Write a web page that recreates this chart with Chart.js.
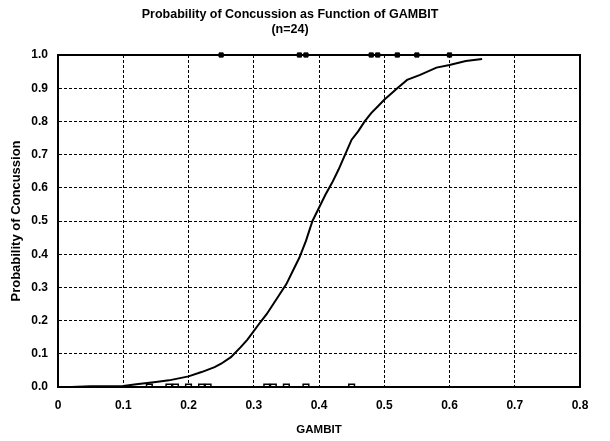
<!DOCTYPE html>
<html>
<head>
<meta charset="utf-8">
<script src="https://cdn.jsdelivr.net/npm/chart.js@4/dist/chart.umd.min.js"></script>
<style>
    html, body { margin: 0; padding: 0; background: #fff; }
    #wrap { width: 610px; height: 441px; position: relative; }
</style>
</head>
<body>
<div id="wrap"><canvas id="chart"></canvas></div>
<script>
// fitted probability curve
const curveX = [0.02, 0.05, 0.10, 0.12, 0.15, 0.17, 0.20, 0.22, 0.24, 0.25, 0.265, 0.28, 0.29, 0.30,
    0.31, 0.32, 0.33, 0.34, 0.35, 0.36, 0.37, 0.38, 0.39, 0.40, 0.41, 0.42, 0.43, 0.44, 0.45,
    0.46, 0.47, 0.48, 0.49, 0.50, 0.52, 0.535, 0.555, 0.58, 0.60, 0.625, 0.65];
const curveP = [0.0, 0.002, 0.003, 0.008, 0.015, 0.02, 0.032, 0.045, 0.06, 0.07, 0.09, 0.12, 0.142, 0.168,
    0.195, 0.22, 0.25, 0.28, 0.31, 0.35, 0.39, 0.44, 0.50, 0.54, 0.58, 0.615, 0.655, 0.70, 0.745,
    0.77, 0.80, 0.825, 0.845, 0.865, 0.90, 0.925, 0.94, 0.962, 0.97, 0.982, 0.988];

// observed cases
const concussedX = [0.25, 0.37, 0.38, 0.48, 0.49, 0.52, 0.55, 0.60];
const notConcussedX = [0.14, 0.17, 0.18, 0.20, 0.22, 0.23, 0.32, 0.33, 0.35, 0.38, 0.45];

const xTickLabels = ['0', '0.1', '0.2', '0.3', '0.4', '0.5', '0.6', '0.7', '0.8'];
const yTickLabels = ['0.0', '0.1', '0.2', '0.3', '0.4', '0.5', '0.6', '0.7', '0.8', '0.9', '1.0'];

const FONT = "'Liberation Sans', Arial, sans-serif";

// frame around the plot area
const framePlugin = {
    id: 'frame',
    afterDatasetsDraw(chart) {
        const { ctx, chartArea: a } = chart;
        ctx.save();
        ctx.strokeStyle = '#000';
        ctx.lineWidth = 2;
        ctx.strokeRect(a.left, a.top, a.right - a.left, a.bottom - a.top);
        ctx.restore();
    }
};

const ctx = document.getElementById('chart').getContext('2d');
new Chart(ctx, {
    type: 'scatter',
    data: {
        datasets: [
            {
                type: 'line',
                data: curveX.map((x, i) => ({ x, y: curveP[i] })),
                borderColor: '#000',
                borderWidth: 2,
                pointRadius: 0,
                tension: 0,
                fill: false
            },
            {
                data: concussedX.map(x => ({ x, y: 1 })),
                pointStyle: 'rect',
                pointRadius: 3,
                backgroundColor: '#000',
                borderColor: '#000',
                borderWidth: 1,
                clip: false
            },
            {
                data: notConcussedX.map(x => ({ x, y: 0 })),
                pointStyle: 'rect',
                pointRadius: 4,
                backgroundColor: '#fff',
                borderColor: '#000',
                borderWidth: 1.5,
                clip: 0
            }
        ]
    },
    options: {
        responsive: true,
        maintainAspectRatio: false,
        animation: false,
        layout: { padding: { top: 0, right: 30, bottom: 0, left: 0 } },
        plugins: {
            legend: { display: false },
            tooltip: { enabled: false },
            title: {
                display: true,
                text: ['Probability of Concussion as Function of GAMBIT', '(n=24)'],
                color: '#000',
                font: { family: FONT, size: 12.5, weight: 'bold', lineHeight: 1.2 },
                padding: { top: 7, bottom: 18 }
            }
        },
        scales: {
            x: {
                type: 'linear',
                min: 0,
                max: 0.8,
                afterFit: scale => { scale.height = 54; },
                ticks: {
                    stepSize: 0.1,
                    padding: 11,
                    color: '#000',
                    font: { family: FONT, size: 12, weight: 'bold' },
                    callback: (v, i) => xTickLabels[i]
                },
                grid: {
                    color: '#000',
                    lineWidth: 1,
                    drawTicks: false
                },
                border: { display: true, color: '#000', width: 2, dash: [3, 2] },
                title: {
                    display: true,
                    text: 'GAMBIT',
                    color: '#000',
                    font: { family: FONT, size: 11.5, weight: 'bold' },
                    padding: { top: 0, bottom: 4 }
                }
            },
            y: {
                type: 'linear',
                min: 0,
                max: 1,
                afterFit: scale => { scale.width = 58; },
                ticks: {
                    stepSize: 0.1,
                    padding: 10,
                    color: '#000',
                    font: { family: FONT, size: 12, weight: 'bold' },
                    callback: (v, i) => yTickLabels[i]
                },
                grid: {
                    color: '#000',
                    lineWidth: 1,
                    drawTicks: false
                },
                border: { display: true, color: '#000', width: 2, dash: [3, 2] },
                title: {
                    display: true,
                    text: 'Probability of Concussion',
                    color: '#000',
                    font: { family: FONT, size: 13, weight: 'bold' },
                    padding: { top: 9, bottom: 0 }
                }
            }
        }
    },
    plugins: [framePlugin]
});
</script>
</body>
</html>
